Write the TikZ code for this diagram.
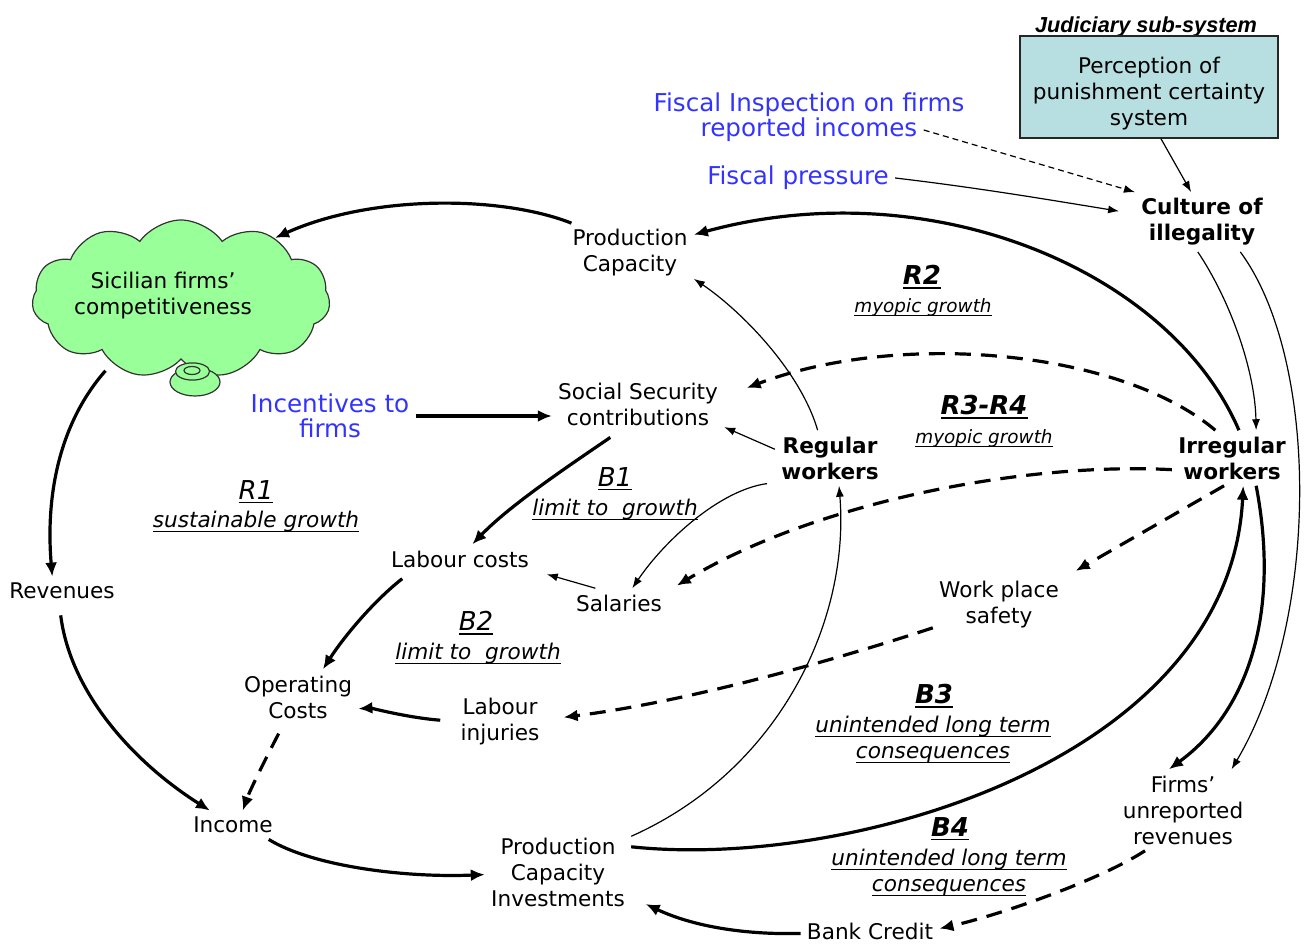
\documentclass[tikz,border=0pt]{standalone}
\usepackage{fontspec}
\setmainfont{DejaVu Sans}
\newfontfamily\arialf{Liberation Sans}
\usetikzlibrary{shapes.symbols,arrows.meta,calc}
\newcommand{\ulin}[1]{\setbox0\hbox{#1}\rlap{\vrule height -1.3pt depth 1.9pt width \wd0}\box0}
\definecolor{cloudgreen}{RGB}{153,255,153}
\definecolor{boxteal}{RGB}{183,222,224}
\definecolor{exoblue}{RGB}{51,51,255}
\tikzset{
 var/.style={font=\fontsize{10.8}{13}\selectfont, align=center, inner sep=3pt},
 bvar/.style={font=\fontsize{10.8}{13}\selectfont\bfseries, align=center, inner sep=3pt},
 exo/.style={font=\fontsize{12.3}{12.5}\selectfont, text=exoblue, align=center, inner sep=3pt},
 ltitle/.style={font=\fontsize{13}{15}\selectfont\itshape, inner sep=1pt},
 btitle/.style={font=\fontsize{13}{15}\selectfont\bfseries\itshape, inner sep=1pt},
 lsub/.style={font=\fontsize{10.8}{13}\selectfont\itshape, align=center, inner sep=1pt},
 lsubs/.style={font=\fontsize{9.2}{11}\selectfont\itshape, align=center, inner sep=1pt},
 lnkt/.style={line width=1.6pt, -{Latex[length=7pt,width=6pt]}},
 lnk/.style={line width=0.6pt, -{Latex[length=5.5pt,width=4pt]}},
 lnktd/.style={lnkt, dash pattern=on 8pt off 5pt},
 lnkd/.style={lnk, dash pattern=on 3pt off 2pt},
}
\begin{document}
\begin{tikzpicture}[x=0.5pt,y=-0.5pt]
\useasboundingbox (0,0) rectangle (1304,945);

% judiciary sub-system
\node[font=\arialf\fontsize{10.85}{13}\selectfont\bfseries\itshape, inner sep=1pt] (jud) at (1146,27) {Judiciary sub-system};
\node[draw=black!85, line width=0.7pt, fill=boxteal, minimum width=129pt, minimum height=51pt, inner sep=0pt] (perc) at (1149,87) {};
\node[var] (perctxt) at (1149,94) {Perception of\\punishment certainty\\system};

% exogenous (blue)
\node[exo] (fisi1) at (809,105) {Fiscal Inspection on firms};
\node[exo] (fisi2) at (809,130) {reported incomes};
\node[exo] (fisp) at (798,178) {Fiscal pressure};
\node[exo] (inc) at (330,416) {Incentives to\\firms};

% cloud
\node[cloud, cloud puffs=11, cloud puff arc=110, aspect=1.9, draw=black!80, fill=cloudgreen, minimum width=149pt, minimum height=79pt, inner sep=0pt, line width=0.6pt] (cloud) at (181,299) {};
\draw[draw=black!80, fill=cloudgreen, line width=0.6pt] (195,382) ellipse [x radius=12.5pt, y radius=7pt];
\draw[draw=black!80, fill=cloudgreen, line width=0.6pt] (192.5,371.5) ellipse [x radius=8.5pt, y radius=4.3pt];
\draw[draw=black!80, fill=cloudgreen, line width=0.6pt] (192,370.5) ellipse [x radius=4pt, y radius=2pt];
\node[var] (cloudtxt) at (163,296) {Sicilian firms'\\competitiveness};

% variables
\node[bvar] (cul) at (1202,222) {Culture of\\illegality};
\node[var] (pc) at (630,253) {Production\\Capacity};
\node[var] (ss) at (638,404) {Social Security\\contributions};
\node[bvar] (reg) at (830,458) {Regular\\workers};
\node[bvar] (irr) at (1232,458) {Irregular\\workers};
\node[var] (lc) at (460,559) {Labour costs};
\node[var] (rev) at (62,591) {Revenues};
\node[var] (sal) at (619,603) {Salaries};
\node[var] (wps) at (999,605) {Work place\\safety};
\node[var] (oc) at (298,697) {Operating\\Costs};
\node[var] (li) at (500,722) {Labour\\injuries};
\node[var] (fur) at (1183,810) {Firms'\\unreported\\revenues};
\node[var] (inco) at (233,825) {Income};
\node[var] (pci) at (558,872) {Production\\Capacity\\Investments};
\node[var] (bank) at (870,931) {Bank Credit};

% loop labels
\node[btitle] (r2t) at (922,277) {\ulin{R2}};
\node[lsubs] (r2s) at (923,307) {\ulin{myopic growth}};
\node[btitle] (r34t) at (984,407) {\ulin{R3-R4}};
\node[lsubs] (r34s) at (984,438) {\ulin{myopic growth}};
\node[ltitle] (r1t) at (256,492) {\ulin{R1}};
\node[lsub] (r1s) at (256,522) {\ulin{sustainable growth}};
\node[ltitle] (b1t) at (615,479) {\ulin{B1}};
\node[lsub] (b1s) at (615,510) {\ulin{limit to~~growth}};
\node[ltitle] (b2t) at (476,623) {\ulin{B2}};
\node[lsub] (b2s) at (478,654) {\ulin{limit to~~growth}};
\node[btitle] (b3t) at (934,696) {\ulin{B3}};
\node[lsub] (b3s) at (933,740) {\ulin{unintended long term}\\\ulin{consequences}};
\node[btitle] (b4t) at (950,829) {\ulin{B4}};
\node[lsub] (b4s) at (949,873) {\ulin{unintended long term}\\\ulin{consequences}};

% connectors
\draw[lnk] (perc.-77) -- (cul.110);
\draw[lnkd] (fisi2.east) -- (cul.156);
\draw[lnk, shorten >=8pt] (fisp.east) .. controls (980,188) and (1050,200) .. (cul.173);
\draw[lnkt] (pc.153) .. controls (500,195) and (370,195) .. (cloud.33);
\draw[lnkt] (irr.76) .. controls (1170,270) and (930,170) .. (pc.16);
\draw[lnk] (reg.114) .. controls (800,370) and (740,310) .. (pc.-22);
\draw[lnktd, shorten >=12pt] (irr.121) .. controls (1120,350) and (900,330) .. (ss.5);
\draw[lnkt] (inc.east) -- (inc.east -| ss.west);
\draw[lnk] (reg.171) -- (ss.-15);
\draw[lnkt, shorten <=5pt] (ss.235) .. controls (570,465) and (510,505) .. (lc.50);
\draw[lnk, shorten <=4pt] (reg.204) .. controls (720,490) and (665,540) .. (sal.48);
\draw[lnktd, shorten >=5pt] (irr.191) .. controls (1030,462) and (820,500) .. (sal.14);
\draw[lnk, shorten >=6pt] (sal.148) -- (lc.-9);
\draw[lnktd, shorten >=6pt] (irr.254) -- (wps.23);
\draw[lnktd, shorten >=9pt] (wps.199) .. controls (860,652) and (700,700) .. (li.3);
\draw[lnkt, shorten <=7pt] (li.179) .. controls (410,718) and (370,708) .. (oc.-11);
\draw[lnkt, shorten <=4pt] (lc.196) .. controls (375,600) and (345,635) .. (oc.48);
\draw[lnktd, shorten <=5pt] (oc.242) .. controls (265,760) and (250,790) .. (inco.56);
\draw[lnkt, shorten <=5pt] (cloud.223) .. controls (62,420) and (45,490) .. (rev.124);
\draw[lnkt, shorten <=5pt] (rev.260) .. controls (70,690) and (130,760) .. (inco.148);
\draw[lnkt] (inco.-22) .. controls (310,865) and (400,878) .. (pci.182);
\draw[lnkt, shorten >=8pt] (bank.182) .. controls (740,935) and (690,925) .. (pci.-19);
\draw[lnktd] (fur.227) .. controls (1100,880) and (1000,915) .. (bank.2);
\draw[lnk] (pci.26) .. controls (780,770) and (850,620) .. (reg.-72);
\draw[lnkt] (pci.19) .. controls (850,870) and (1230,760) .. (irr.-68);
\draw[lnkt] (irr.-49) .. controls (1280,610) and (1250,710) .. (fur.109);
\draw[lnk] (cul.262) .. controls (1230,300) and (1255,370) .. (irr.49);
\draw[lnk] (cul.-38) .. controls (1320,360) and (1320,620) .. (fur.40);
\end{tikzpicture}
\end{document}
